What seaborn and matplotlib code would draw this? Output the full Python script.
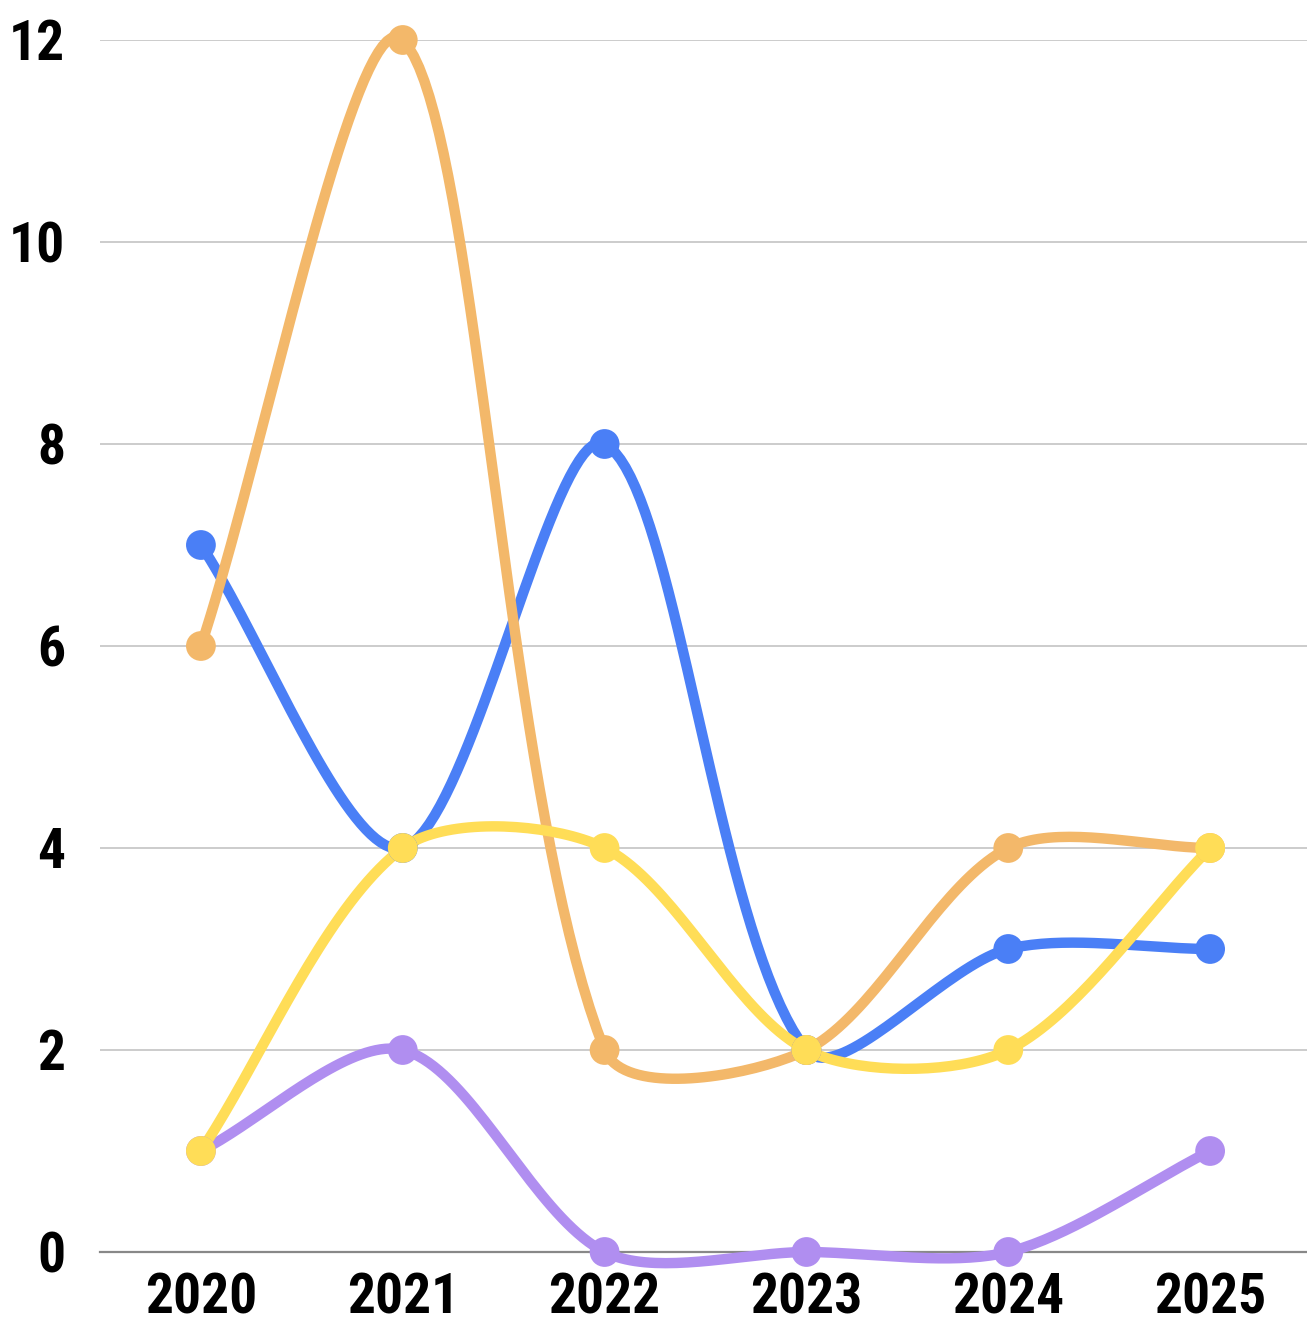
import numpy as np
import pandas as pd
import seaborn as sns
import matplotlib.pyplot as plt
from matplotlib import font_manager as fm

# dati
anni = ["2020", "2021", "2022", "2023", "2024", "2025"]
blu = [7, 4, 8, 2, 3, 3]
arancio = [6, 12, 2, 2, 4, 4]
giallo = [1, 4, 4, 2, 2, 4]
viola = [1, 2, 0, 0, 0, 1]

serie = [
    ("viola", viola, "#B08EF0"),
    ("blu", blu, "#4A7FF6"),
    ("arancio", arancio, "#F3B86A"),
    ("giallo", giallo, "#FFDD57"),
]

# curva smussata a spline (pixel: 202 per anno, 101 per unita)
def curva(valori, t=0.3, sx=202.0, sy=101.0, n=40):
    x = np.arange(len(valori), dtype=float) * sx
    y = np.array(valori, dtype=float) * sy
    k = len(x)
    cp_prev = np.zeros((k, 2))
    cp_next = np.zeros((k, 2))
    for i in range(k):
        p0 = (x[max(i - 1, 0)], y[max(i - 1, 0)])
        p1 = (x[i], y[i])
        p2 = (x[min(i + 1, k - 1)], y[min(i + 1, k - 1)])
        d01 = np.hypot(p1[0] - p0[0], p1[1] - p0[1])
        d12 = np.hypot(p2[0] - p1[0], p2[1] - p1[1])
        tot = d01 + d12
        s01 = d01 / tot if tot else 0
        s12 = d12 / tot if tot else 0
        fa, fb = t * s01, t * s12
        cp_prev[i] = (p1[0] - fa * (p2[0] - p0[0]), p1[1] - fa * (p2[1] - p0[1]))
        cp_next[i] = (p1[0] + fb * (p2[0] - p0[0]), p1[1] + fb * (p2[1] - p0[1]))
    xs, ys = [], []
    u = np.linspace(0, 1, n)
    for i in range(k - 1):
        a = np.array([x[i], y[i]])
        b = cp_next[i]
        c = cp_prev[i + 1]
        d = np.array([x[i + 1], y[i + 1]])
        pts = ((1 - u) ** 3)[:, None] * a + (3 * (1 - u) ** 2 * u)[:, None] * b \
            + (3 * (1 - u) * u ** 2)[:, None] * c + (u ** 3)[:, None] * d
        xs.extend(pts[:, 0] / sx)
        ys.extend(pts[:, 1] / sy)
    return np.array(xs), np.array(ys)

sns.set_style("white")

# font stretto se disponibile
nomi = {(f.name, f.stretch) for f in fm.fontManager.ttflist}
famiglia, stretch = "DejaVu Sans", "normal"
for nome in ["Roboto Condensed", "Liberation Sans Narrow", "Open Sans Condensed"]:
    if any(n == nome for n, s in nomi):
        famiglia = nome
        break
else:
    if ("DejaVu Sans", "condensed") in nomi or ("DejaVu Sans", "semi-condensed") in nomi:
        stretch = "condensed"
plt.rcParams["font.family"] = [famiglia, "DejaVu Sans"]
plt.rcParams["font.stretch"] = stretch

fig = plt.figure(figsize=(13.07, 13.24), dpi=100)
ax = fig.add_axes([100 / 1307, 72 / 1324, 1207 / 1307, 1212 / 1324])

for nome, valori, colore in serie:
    xs, ys = curva(valori)
    sns.lineplot(x=xs, y=ys, sort=False, color=colore, linewidth=7.5, ax=ax,
                 solid_capstyle="round", zorder=3, clip_on=False)
    sns.scatterplot(x=np.arange(len(valori)), y=valori, color=colore, s=460,
                    edgecolor="none", ax=ax, zorder=4, clip_on=False)

ax.set_xlim(-0.5, 5.48)
ax.set_ylim(0, 12)
ax.set_xticks(range(len(anni)))
ax.set_xticklabels(anni)
ax.set_yticks(range(0, 13, 2))
ax.grid(axis="y", color="#CCCCCC", linewidth=1.4)
ax.grid(axis="x", visible=False)
for lato in ["top", "right", "left"]:
    ax.spines[lato].set_visible(False)
ax.spines["bottom"].set_color("#888888")
ax.spines["bottom"].set_linewidth(1.6)
ax.tick_params(axis="both", length=0, labelsize=40, labelcolor="black")
ax.tick_params(axis="y", pad=25)
ax.tick_params(axis="x", pad=15)
for lab in ax.get_xticklabels() + ax.get_yticklabels():
    lab.set_fontweight("bold")
    lab.set_fontstretch(stretch)

plt.savefig("out.png", dpi=100)
